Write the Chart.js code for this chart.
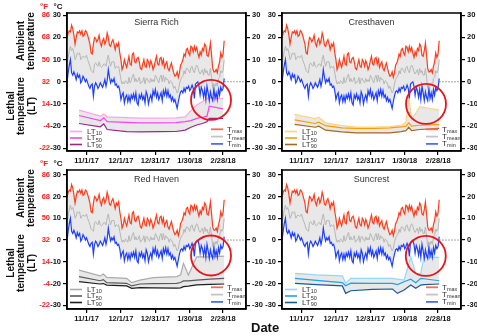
<!DOCTYPE html>
<html>
<head>
<meta charset="utf-8">
<script src="https://cdn.jsdelivr.net/npm/chart.js@4.4.1/dist/chart.umd.min.js"></script>
<style>
  body { margin: 0; background: #fff; }
  #wrap { position: relative; width: 477px; height: 336px; overflow: hidden; }
  canvas { position: absolute; }
  #date { position: absolute; left: 251px; top: 320px; font: bold 13px 'Liberation Sans', Arial, sans-serif; color: #111; }
</style>
</head>
<body>
<div id="wrap">
  <canvas id="c1" width="272" height="166" style="left:0px;top:0px"></canvas>
  <canvas id="c2" width="237" height="166" style="left:240px;top:0px"></canvas>
  <canvas id="c3" width="272" height="179" style="left:0px;top:157px"></canvas>
  <canvas id="c4" width="237" height="179" style="left:240px;top:157px"></canvas>
  <div id="date">Date</div>
</div>
<script>
// x axis is days since 10/15/17
const tickDays = [17, 47, 77, 107, 136];
const tickLabels = ['11/1/17', '12/1/17', '12/31/17', '1/30/18', '2/28/18'];
const cTicks = [30, 20, 10, 0, -10, -20, -30];
const fLabels = ['86', '68', '50', '32', '14', '-4', '-22'];

// daily air temperature, °C (same station for all four panels)
const tmax = [
  19.5, 22, 23, 22.5, 25.5, 24, 21, 17, 20, 22.5,
  22, 23, 21.5, 23, 20.5, 21, 23, 22.5, 21, 19,
  17, 13, 12.5, 17, 20, 19.5, 18, 19, 21, 17.5,
  16, 18.5, 19.5, 17, 18.5, 22, 20, 16.5, 16, 18,
  19, 17, 14.5, 17, 16, 17.5, 13, 10, 5.5, 7,
  10, 8, 6.5, 9, 11.5, 8, 7.5, 12.5, 13, 9,
  8.5, 10.5, 11, 9, 6, 5.5, 8, 10, 7, 6.5,
  10, 9, 7, 9.5, 8, 5.5, 7, 9.5, 11.5, 8,
  7.5, 10.5, 11, 8, 10, 6.5, 8, 9, 6, 5,
  7, 8.5, 6, 4, 2.5, 3, 4.5, 2, 4, 7.5,
  8.5, 10, 12.5, 11.5, 14.5, 15, 13, 12, 16, 15.5,
  13.5, 16, 14, 15.5, 13, 11, 13.5, 12, 15, 14,
  17, 16, 12, 11.5, 14, 17.5, 12, 6, 4.5, 4.5,
  5.5, 4, 7, 9, 13, 11, 12.5, 18.5
];
const tmean = [
  8, 11, 14, 16, 14, 15, 13, 10, 11, 13,
  12.5, 13, 10, 11, 11.5, 11, 11, 12, 10, 8.5,
  7, 5, 4.5, 4, 8, 8.5, 7.5, 7, 9, 7,
  6.5, 7, 8, 8, 7, 10, 12, 9, 7, 9,
  9, 9, 6, 7, 6.5, 7, 4, 1, -1, 0,
  -1, 0.5, 0, -1, 2, -0.5, 0.5, 2.5, 3.5, 0,
  1.5, 0, 0.5, 2, -1, 0, 0, 2, -1, 1.5,
  1.5, 0, -0.5, 1.5, 0, 1, 0, 3, 2, 0.5,
  -0.5, 2, 3, 0, 3, 0, 2, 1, 1, -1,
  0.5, 0, -1, -3, -2, -3.5, -5, -4, -1, 1,
  2, 2.5, 5, 3.5, 6, 6, 5, 4, 6.5, 7,
  5, 4, 6.5, 7.5, 6.5, 4.5, 3.5, 4.5, 5.5, 3,
  6, 4, 5, 3, 3, 6, 2, -3, -1, -2,
  -0.5, -2, 1.5, 2, 5, 4, 5, 10
];
const tmin = [
  -0.5, 4, 7.5, 10, 4, 3, 4.5, 3, 1, 3.5,
  2, 3, -0.5, 0.5, 2.5, 1.5, 0, 1, -0.5, -2,
  -3, -1.5, -1, -6.5, -2, -0.5, -1.5, -3, -2, -0.5,
  -1.5, -2.5, -1, 1, -2, 0.5, 5.5, 2, -0.5, 1,
  0, 1.5, -1.5, -1, -2.5, -2, -4, -8, -6, -5,
  -9.5, -7, -6, -9, -6.5, -9, -6, -7.5, -5.5, -8,
  -5, -9.5, -10.5, -6, -7.5, -5.5, -8, -6.5, -9.5, -4.5,
  -6, -10, -7.5, -6, -8.5, -4, -6, -3.5, -7, -5,
  -8, -6.5, -5, -8.5, -4, -6, -3.5, -6.5, -4, -7,
  -6, -8.5, -7, -9, -8, -10, -12, -9, -6.5, -4.5,
  -4, -5, -3, -4.5, -2.5, -3, -2, -4, -3, -1.5,
  -3, -7.5, -1, -0.5, 0, -2, -6, -2.5, -4, -7,
  -3.5, -8, -2, -5, -8.5, -4.5, -7, -8.5, -3, -7.5,
  -5, -8, -3.5, -6, -2.5, -4, -3, 1.5
];

// lethal temperatures per cultivar, °C
const sierraDays = [10.5, 29, 32, 35, 52, 64, 80, 95, 103, 108, 113, 118, 122, 124, 136];
const sierraLT10 = [-12.8, -15.5, -14.5, -15.8, -16.2, -16.4, -16.4, -16.3, -15.8, -13, -10.5, -9, -7.5, -7.2, -7.6];
const sierraLT50 = [-15.2, -17.5, -16.2, -18, -18.3, -18.5, -18.5, -18.4, -18, -17.5, -16.5, -16, -15.5, -11, -12.2];
const sierraLT90 = [-18.8, -20.3, -19, -21.5, -22.5, -22.6, -22.5, -22.4, -21.8, -20.5, -19.5, -18.8, -18, -16.5, -16.5];

const crestDays = [11, 29, 32, 38, 52, 65, 80, 94, 104, 108, 110.5, 113, 120, 137];
const crestLT10 = [-14.7, -16.6, -16, -18.5, -19.8, -20.4, -20.4, -20.2, -19.5, -18.5, -6.8, -17, -11.2, -12.8];
const crestLT50 = [-17.2, -18.8, -18.2, -19.8, -20.8, -21, -21, -20.8, -20.3, -20, -18.5, -20, -19.6, -19.3];
const crestLT90 = [-19.2, -20.5, -20, -21.8, -22.6, -23, -23, -23, -22.5, -22, -20.5, -22, -21.5, -21];

const redDays = [10.5, 28.8, 31.7, 34.6, 52, 56.4, 63.6, 75, 95.6, 99, 101.5, 105.8, 113, 124.6, 137];
const redLT10 = [-13.8, -16.5, -15.6, -17.2, -17.6, -19.6, -18.4, -17.3, -16.8, -16, -10.7, -16.1, -7.7, -7.7, -7.4];
const redLT50 = [-16.8, -18.7, -18.2, -19.6, -19.9, -21.1, -20.2, -20, -19.9, -19.5, -18.8, -18.8, -18.4, -18, -17.6];
const redLT90 = [-19.1, -20.2, -20, -20.7, -21.1, -22.2, -21.9, -22, -22.1, -22, -21.4, -21.2, -20.6, -20.4, -20.2];

const sunDays = [11.3, 30, 52.6, 55.5, 59.9, 78.8, 96.3, 100.6, 106.4, 112.2, 116.6, 120.9, 123.8, 137];
const sunLT10 = [-15.3, -16, -16.5, -19.9, -17.6, -17.6, -17.6, -18, -18.4, -7.7, -15.5, -15.3, -7.7, -8];
const sunLT50 = [-17.6, -18.5, -19.6, -21, -19.8, -19.9, -19.9, -20.5, -19.2, -18, -19.6, -17.6, -17.8, -18.7];
const sunLT90 = [-19.9, -20.5, -21.1, -24.5, -23.3, -22.7, -22.5, -24.5, -23, -20.7, -22.2, -20.7, -20.5, -20.2];

const FONT = "'Liberation Sans', Arial, sans-serif";
const tickFont = { family: FONT, size: 7.5, weight: 'bold' };

const panels = [
  { id: 'c1', title: 'Sierra Rich', days: sierraDays, lt: [sierraLT10, sierraLT50, sierraLT90],
    colors: ['#ffa3e8', '#ff40f2', '#9a2590'], left: true, yMin: -31.2, yMax: 31,
    leftW: 67, rightW: 26, xH: 15, circle: [125.5, -8.2] },
  { id: 'c2', title: 'Cresthaven', days: crestDays, lt: [crestLT10, crestLT50, crestLT90],
    colors: ['#ffd387', '#ff9b00', '#a8671f'], left: false, yMin: -31.2, yMax: 31,
    leftW: 42, rightW: 16, xH: 15, circle: [125.5, -10] },
  { id: 'c3', title: 'Red Haven', days: redDays, lt: [redLT10, redLT50, redLT90],
    colors: ['#ababab', '#5a5a5a', '#1e1e1e'], left: true, yMin: -31.7, yMax: 32.2,
    leftW: 67, rightW: 26, xH: 27, circle: [125.5, -7.1] },
  { id: 'c4', title: 'Suncrest', days: sunDays, lt: [sunLT10, sunLT50, sunLT90],
    colors: ['#92d8f8', '#1ea2ea', '#1c5a94'], left: false, yMin: -31.7, yMax: 32.2,
    leftW: 42, rightW: 16, xH: 27, circle: [125.3, -7.3] }
];

function vText(ctx, text, x, y) {
  ctx.save();
  ctx.translate(x, y);
  ctx.rotate(-Math.PI / 2);
  ctx.fillText(text, 0, 0);
  ctx.restore();
}

function subText(ctx, main, sub, x, y) {
  ctx.font = '8px ' + FONT;
  ctx.fillText(main, x, y);
  const w = ctx.measureText(main).width;
  ctx.font = '5.5px ' + FONT;
  ctx.fillText(sub, x + w, y + 2);
}

const decor = {
  id: 'decor',
  afterDraw(chart, args, o) {
    const { ctx, chartArea: a, scales } = chart;
    ctx.save();
    ctx.strokeStyle = '#000';
    ctx.lineWidth = 1.5;
    ctx.strokeRect(a.left, a.top, a.right - a.left, a.bottom - a.top);

    // panel name
    ctx.fillStyle = '#333';
    ctx.font = '9px ' + FONT;
    ctx.textAlign = 'center';
    ctx.textBaseline = 'middle';
    ctx.fillText(o.title, (a.left + a.right) / 2, a.top + 10);

    // red circle
    ctx.strokeStyle = '#e8141c';
    ctx.lineWidth = 1.8;
    ctx.beginPath();
    ctx.arc(scales.x.getPixelForValue(o.circle[0]), scales.y.getPixelForValue(o.circle[1]), 20, 0, Math.PI * 2);
    ctx.stroke();

    // legends
    ctx.textAlign = 'left';
    ctx.fillStyle = '#333';
    const ltNames = ['10', '50', '90'];
    o.colors.forEach((c, i) => {
      const y = a.bottom - 19.5 + i * 6.5;
      ctx.strokeStyle = c;
      ctx.lineWidth = 1.6;
      ctx.beginPath(); ctx.moveTo(a.left + 3, y); ctx.lineTo(a.left + 15, y); ctx.stroke();
      ctx.fillStyle = '#333';
      subText(ctx, 'LT', ltNames[i], a.left + 20, y);
    });
    const tNames = ['max', 'mean', 'min'];
    ['#ff6a55', '#c4c4c4', '#4d6dff'].forEach((c, i) => {
      const y = a.bottom - 21.7 + i * 7.3;
      ctx.strokeStyle = c;
      ctx.lineWidth = 1.8;
      ctx.beginPath(); ctx.moveTo(a.right - 35, y); ctx.lineTo(a.right - 23, y); ctx.stroke();
      ctx.fillStyle = '#333';
      subText(ctx, 'T', tNames[i], a.right - 19, y);
    });

    if (o.left) {
      // °F tick labels
      ctx.fillStyle = '#ff2020';
      ctx.font = 'bold 7.5px ' + FONT;
      ctx.textAlign = 'right';
      cTicks.forEach((c, i) => ctx.fillText(fLabels[i], 50, scales.y.getPixelForValue(c)));
      ctx.textAlign = 'center';
      ctx.font = 'bold 8px ' + FONT;
      ctx.fillText('°F', 44, a.top - 6);
      ctx.fillStyle = '#111';
      ctx.fillText('°C', 58, a.top - 6);
      // axis titles
      ctx.font = 'bold 10px ' + FONT;
      vText(ctx, 'Ambient', 21, a.top + 28);
      vText(ctx, 'temperature', 31.5, a.top + 28);
      vText(ctx, 'Lethal', 11, a.top + 93);
      vText(ctx, 'temperature', 21.5, a.top + 93);
      vText(ctx, '(LT)', 32, a.top + 93);
    }
    ctx.restore();
  }
};

function yAxis(pos, width, p) {
  return {
    type: 'linear', position: pos, min: p.yMin, max: p.yMax,
    afterBuildTicks: s => { s.ticks = cTicks.map(v => ({ value: v })); },
    afterFit: s => { s.width = width; },
    grid: { drawOnChartArea: false, drawTicks: true, tickLength: 4, color: '#000', lineWidth: 1.2 },
    border: { color: '#000', width: 1.5 },
    ticks: { color: '#111', font: tickFont, padding: 2, callback: v => String(v) }
  };
}

const line = (data, color, w, extra) =>
  Object.assign({ data, borderColor: color, borderWidth: w, pointRadius: 0, fill: false, tension: 0 }, extra || {});

const daily = arr => arr.map((v, i) => ({ x: i, y: v }));
const pairs = (days, vals) => days.map((d, i) => ({ x: d, y: vals[i] }));

panels.forEach(p => {
  new Chart(document.getElementById(p.id), {
    type: 'line',
    data: {
      datasets: [
        line(daily(tmax), '#ff3b1a', 1.2, { fill: '+2', backgroundColor: '#e8e8e8' }),
        line(daily(tmean), '#b6b6b6', 1),
        line(daily(tmin), '#1f3fff', 1.2),
        line(pairs(p.days, p.lt[0]), p.colors[0], 1.2, { fill: '+2', backgroundColor: '#e8e8e8' }),
        line(pairs(p.days, p.lt[1]), p.colors[1], 1.2),
        line(pairs(p.days, p.lt[2]), p.colors[2], 1.2),
        line([{ x: tmax.length - 1, y: 0 }, { x: 156, y: 0 }], '#888', 1, { borderDash: [1.5, 1.5] })
      ]
    },
    options: {
      responsive: false,
      animation: false,
      devicePixelRatio: 1,
      layout: { padding: { top: 13, left: 0, right: 0, bottom: 0 } },
      scales: {
        x: {
          type: 'linear', min: 0, max: 156,
          afterBuildTicks: s => { s.ticks = tickDays.map(v => ({ value: v })); },
          afterFit: s => { s.height = p.xH; },
          grid: { drawOnChartArea: false, tickLength: 4, color: '#000', lineWidth: 1.2 },
          border: { color: '#000', width: 1.5 },
          ticks: { color: '#111', font: tickFont, padding: 1, maxRotation: 0, autoSkip: false,
                   callback: v => tickLabels[tickDays.indexOf(v)] }
        },
        y: yAxis('left', p.leftW, p),
        y2: yAxis('right', p.rightW, p)
      },
      plugins: {
        legend: { display: false },
        tooltip: { enabled: false },
        filler: { propagate: false, drawTime: 'beforeDatasetsDraw' },
        decor: { title: p.title, colors: p.colors, left: p.left, circle: p.circle }
      }
    },
    plugins: [decor]
  });
});
</script>
</body>
</html>
